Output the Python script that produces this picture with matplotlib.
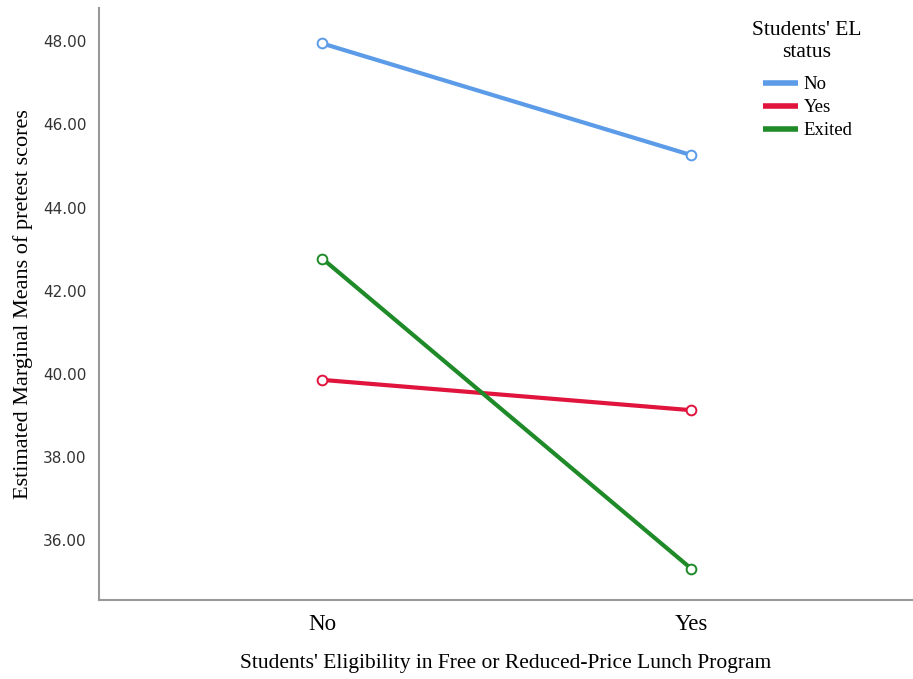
import matplotlib
matplotlib.use("Agg")
import matplotlib.pyplot as plt

# Data
lunch_levels = ["No", "Yes"]
el_status = ["No", "Yes", "Exited"]
means_no = [47.95, 45.26]
means_yes = [39.85, 39.12]
means_exited = [42.77, 35.30]
series_colors = ["#5b9be8", "#e0143c", "#1f8a28"]

fig = plt.figure(figsize=(9.13, 6.79), dpi=100)
ax = fig.add_axes([0.1084, 0.1163, 0.8916, 0.8717])

x = list(range(len(lunch_levels)))
for vals, name, col in zip([means_no, means_yes, means_exited], el_status, series_colors):
    ax.plot(x, vals, color=col, lw=3, label=name, solid_capstyle="butt")
    ax.plot(x, vals, ls="none", marker="o", ms=7, mfc="white", mec=col, mew=1.4)

ax.set_xlim(-0.605, 1.6)
ax.set_ylim(34.55, 48.8)
ax.set_xticks(x)
ax.set_xticklabels(lunch_levels, family="Liberation Serif", fontsize=16.5)
ax.set_yticks([36, 38, 40, 42, 44, 46, 48])
ax.set_yticklabels([f"{v:.2f}" for v in [36, 38, 40, 42, 44, 46, 48]],
                   family="DejaVu Sans", fontsize=11, color="#333333")
ax.tick_params(length=0)
ax.tick_params(axis="x", pad=10)
ax.tick_params(axis="y", pad=9)

for side in ["top", "right"]:
    ax.spines[side].set_visible(False)
for side in ["left", "bottom"]:
    ax.spines[side].set_color("#999999")
    ax.spines[side].set_linewidth(1.5)

ax.set_ylabel("Estimated Marginal Means of pretest scores", family="Liberation Serif",
              fontsize=16, labelpad=7)
ax.set_xlabel("Students' Eligibility in Free or Reduced-Price Lunch Program",
              family="Liberation Serif", fontsize=15.5, labelpad=14)

# legend title drawn separately so the gap to the entries matches
ax.text(0.8698, 0.9436, "Students' EL\nstatus", transform=ax.transAxes,
        ha="center", va="center", multialignment="center",
        family="Liberation Serif", fontsize=15.5)
leg = ax.legend(loc="upper left", bbox_to_anchor=(0.816, 0.885),
                frameon=False, handlelength=1.85, handletextpad=0.3, labelspacing=0.31,
                borderpad=0, borderaxespad=0,
                prop={"family": "Liberation Serif", "size": 13.5})
for h in leg.get_lines():
    h.set_linewidth(4)

fig.savefig("out.png", dpi=100)
